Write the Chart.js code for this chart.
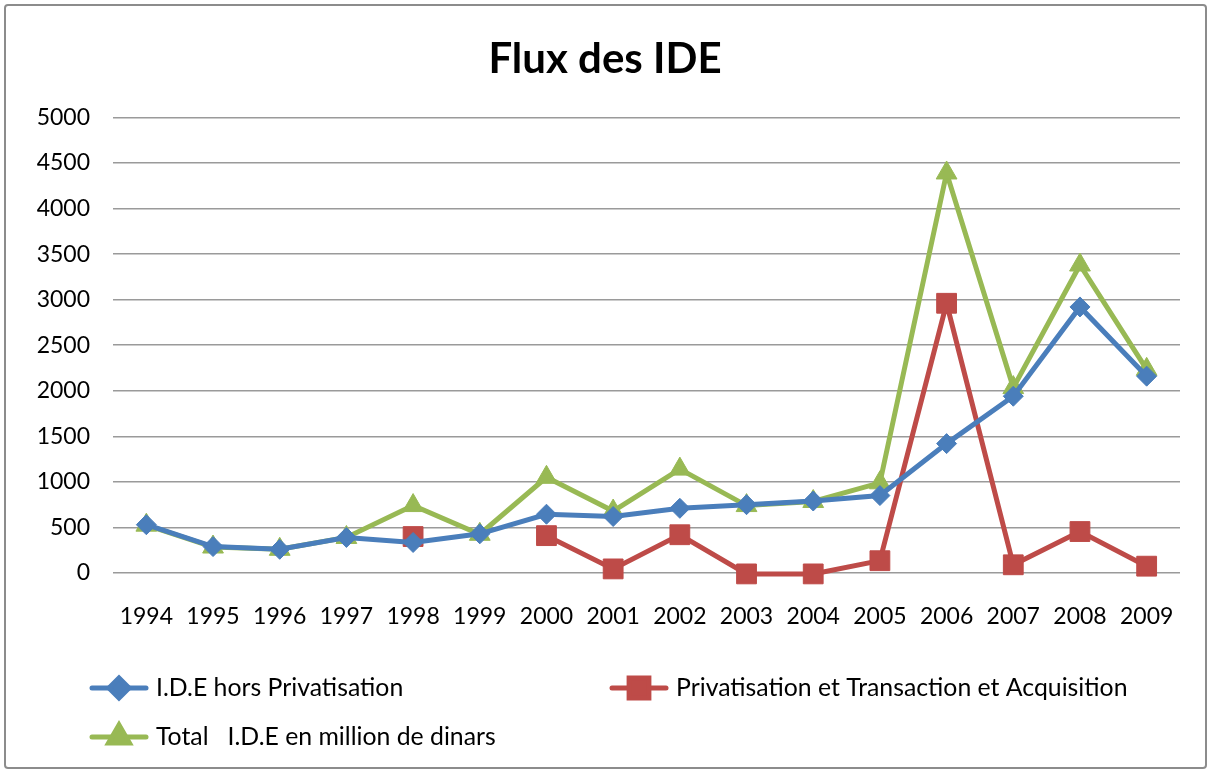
<!DOCTYPE html>
<html>
<head>
<meta charset="utf-8">
<script src="https://cdn.jsdelivr.net/npm/chart.js@4"></script>
<style>
    html, body { margin: 0; padding: 0; background: #fff; }
    #wrap { position: relative; width: 1210px; height: 773px; }
    #frame { position: absolute; left: 4px; top: 4px; width: 1203px; height: 765px; border: 2px solid #8c8c8c; border-radius: 4px; box-sizing: border-box; pointer-events: none; }
</style>
</head>
<body>
<div id="wrap">
    <canvas id="myChart" width="1210" height="773"></canvas>
    <div id="frame"></div>
</div>
<script>
// datos
const annees = ['1994', '1995', '1996', '1997', '1998', '1999', '2000', '2001', '2002', '2003', '2004', '2005', '2006', '2007', '2008', '2009'];
const horsPrivatisation = [530, 290, 260, 390, 335, 430, 645, 620, 710, 750, 790, 850, 1420, 1940, 2920, 2160];
const privatisation = [null, null, null, null, 400, null, 410, 45, 420, -10, -10, 135, 2960, 90, 455, 75];
const totalIde = [525, 285, 260, 390, 740, 425, 1050, 680, 1140, 740, 785, 990, 4390, 2035, 3380, 2235];
const ticksY = [0, 500, 1000, 1500, 2000, 2500, 3000, 3500, 4000, 4500, 5000];

const bleu = '#4A7EBB';
const rouge = '#BE4B48';
const vert = '#98B954';
const police = 'Lato';

// leyenda dibujada a mano (dos columnas como en Excel)
const legendePlugin = {
    id: 'legende',
    afterDraw(chart) {
        const ctx = chart.ctx;
        const pos = [[92, 688], [612, 688], [92, 737]];
        chart.data.datasets.forEach((ds, i) => {
            const [x, y] = pos[i];
            ctx.save();
            ctx.strokeStyle = ds.borderColor;
            ctx.lineWidth = 5;
            ctx.lineCap = 'round';
            ctx.beginPath();
            ctx.moveTo(x, y);
            ctx.lineTo(x + 54, y);
            ctx.stroke();
            ctx.fillStyle = ds.backgroundColor;
            Chart.helpers.drawPoint(ctx, { pointStyle: ds.pointStyle, radius: ds.pointRadius, borderWidth: 1 }, x + 27, y);
            ctx.fillStyle = '#000';
            ctx.font = '24.8px ' + police;
            ctx.textBaseline = 'middle';
            ctx.fillText(ds.label, x + 64, y);
            ctx.restore();
        });
    }
};

const ctx = document.getElementById('myChart');
const myChart = new Chart(ctx, {
    type: 'line',
    data: {
        labels: annees,
        datasets: [{
            label: 'I.D.E hors Privatisation',
            data: horsPrivatisation,
            borderColor: bleu,
            backgroundColor: bleu,
            borderWidth: 5,
            pointStyle: 'rectRot',
            pointRadius: 10,
            pointBorderWidth: 1,
            clip: false
        }, {
            label: 'Privatisation et Transaction et Acquisition',
            data: privatisation,
            borderColor: rouge,
            backgroundColor: rouge,
            borderWidth: 5,
            pointStyle: 'rect',
            pointRadius: 14,
            pointBorderWidth: 1,
            spanGaps: false,
            clip: false
        }, {
            label: 'Total   I.D.E en million de dinars',
            data: totalIde,
            borderColor: vert,
            backgroundColor: vert,
            borderWidth: 5,
            pointStyle: 'triangle',
            pointRadius: 12,
            pointBorderWidth: 1,
            clip: false
        }]
    },
    options: {
        responsive: false,
        animation: false,
        layout: { padding: { left: 30, right: 30, top: 0, bottom: 0 } },
        scales: {
            x: {
                offset: true,
                grid: { display: false, drawTicks: false },
                border: { display: false },
                ticks: { color: '#000', font: { family: police, size: 23 }, padding: 30, maxRotation: 0 },
                afterFit: (scale) => { scale.height = 200; }
            },
            y: {
                min: 0,
                max: 5000,
                afterBuildTicks: (scale) => { scale.ticks = ticksY.map(v => ({ value: v })); },
                grid: { color: '#9a9a9a', lineWidth: 1.5, drawTicks: false },
                border: { display: false },
                ticks: {
                    color: '#000',
                    font: { family: police, size: 23 },
                    padding: 23,
                    callback: (value) => String(value) // sin separador de miles
                },
                afterFit: (scale) => { scale.width = 83; }
            }
        },
        plugins: {
            legend: { display: false },
            tooltip: { enabled: false },
            title: {
                display: true,
                text: 'Flux des IDE',
                color: '#000',
                font: { family: police, size: 42, weight: 'bold' },
                padding: { top: 34, bottom: 33 }
            }
        }
    },
    plugins: [legendePlugin]
});
</script>
</body>
</html>
